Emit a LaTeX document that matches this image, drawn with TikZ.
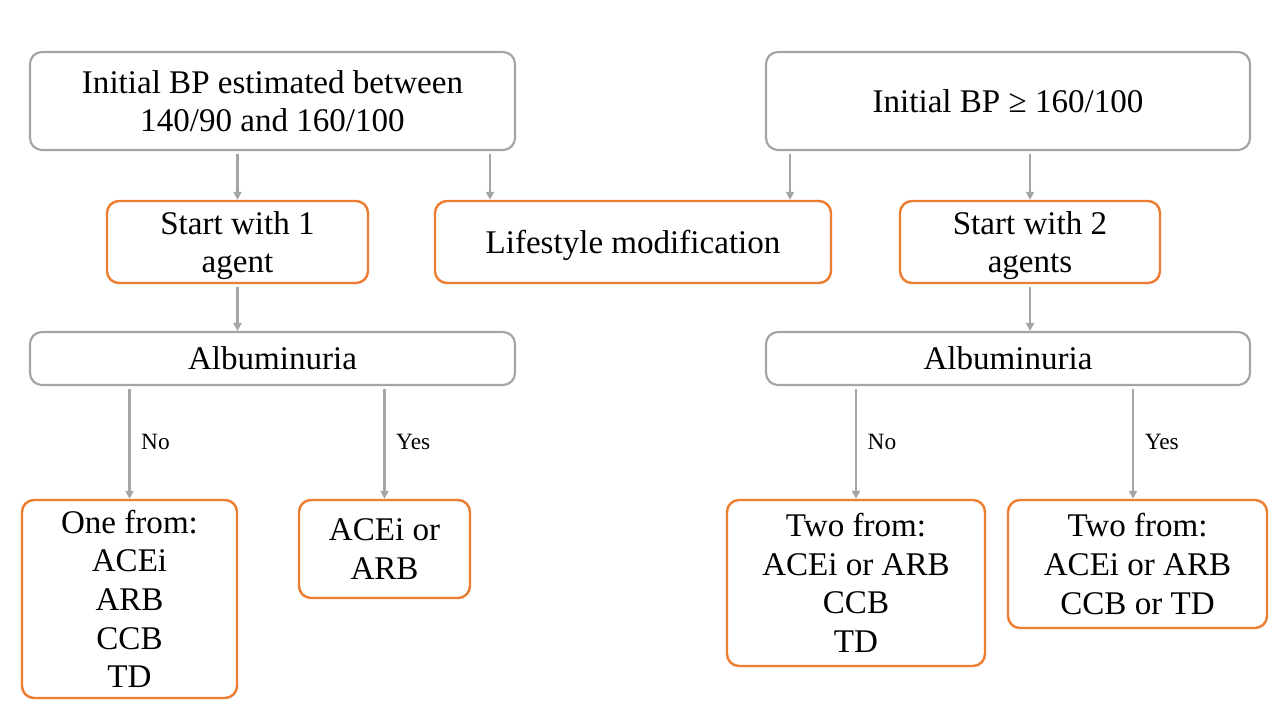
\documentclass[tikz,border=0pt]{standalone}
\usepackage{fontspec}
\setmainfont{Liberation Serif}
\usetikzlibrary{arrows.meta}
\definecolor{boxgray}{HTML}{A5A5A5}
\definecolor{boxorange}{HTML}{ED7D31}
\begin{document}
\begin{tikzpicture}[x=0.75pt,y=-0.75pt,
  base/.style={rounded corners=9pt, align=center, inner sep=0pt, text depth=0pt, font=\fontsize{24.8}{29}\selectfont, text=black},
  graybox/.style={base, draw=boxgray, line width=1.6pt},
  orangebox/.style={base, draw=boxorange, line width=1.8pt},
  arr/.style={draw=boxgray, line width=1.6pt, shorten <=2pt, -{Triangle[width=6pt,length=6pt]}},
  lbl/.style={font=\fontsize{17.5}{21}\selectfont, anchor=west, inner sep=0pt, xshift=8pt, text=black}]
\fill[white] (0,0) rectangle (1280,720);
\useasboundingbox (0,0) rectangle (1280,720);

% top gray boxes
\node[graybox, minimum width=363.75pt, minimum height=73.5pt] (A) at (272.5,101) {Initial BP estimated between\\140/90 and 160/100};
\node[graybox, minimum width=363pt, minimum height=73.5pt] (B) at (1008,101) {Initial BP ≥ 160/100};

% second row orange boxes
\node[orangebox, minimum width=195.75pt, minimum height=61.5pt] (C) at (237.5,242) {Start with 1\\agent};
\node[orangebox, minimum width=297pt, minimum height=61.5pt] (D) at (633,242) {Lifestyle modification};
\node[orangebox, minimum width=195pt, minimum height=61.5pt] (E) at (1030,242) {Start with 2\\agents};

% albuminuria boxes
\node[graybox, minimum width=363.75pt, minimum height=39.75pt] (F) at (272.5,358.5) {Albuminuria};
\node[graybox, minimum width=363pt, minimum height=39.75pt] (G) at (1008,358.5) {Albuminuria};

% bottom orange boxes
\node[orangebox, minimum width=161.25pt, minimum height=148.5pt] (H) at (129.5,599) {One from:\\ACEi\\ARB\\CCB\\TD};
\node[orangebox, minimum width=128.25pt, minimum height=73.5pt] (I) at (384.5,549) {ACEi or\\ARB};
\node[orangebox, minimum width=193.5pt, minimum height=124.5pt] (J) at (856,583) {Two from:\\ACEi or ARB\\CCB\\TD};
\node[orangebox, minimum width=194.25pt, minimum height=96pt] (K) at (1137.5,564) {Two from:\\ACEi or ARB\\CCB or TD};

% helper coordinates for off-centre connectors
\coordinate (xa) at (490,0);
\coordinate (xb) at (790,0);
\coordinate (xk) at (1133,0);

% connectors
\draw[arr] (A.south -| C.north) -- (C.north);
\draw[arr] (A.south -| xa) -- (D.north -| xa);
\draw[arr] (B.south -| xb) -- (D.north -| xb);
\draw[arr] (B.south -| E.north) -- (E.north);
\draw[arr] (C.south) -- (F.north -| C.south);
\draw[arr] (E.south) -- (G.north -| E.south);
\draw[arr] (F.south -| H.north) -- node[lbl]{No} (H.north);
\draw[arr] (F.south -| I.north) -- node[lbl]{Yes} (I.north);
\draw[arr] (G.south -| J.north) -- node[lbl]{No} (J.north);
\draw[arr] (G.south -| xk) -- node[lbl]{Yes} (K.north -| xk);
\end{tikzpicture}
\end{document}
